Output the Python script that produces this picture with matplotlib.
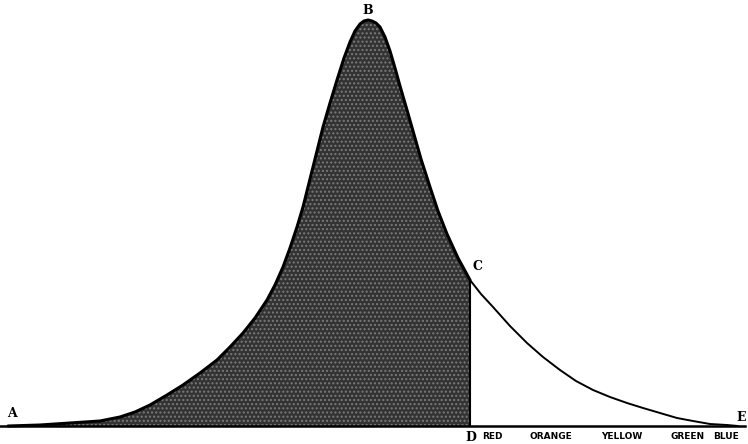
import matplotlib
matplotlib.use('agg')
import matplotlib.pyplot as plt
import numpy as np

# position along the spectrum and height of the curve
pos = [8, 40, 70, 100, 120, 135, 150, 167, 183, 200, 217, 230, 243, 255, 267,
       275, 283, 290, 297, 303, 307, 315, 323, 330, 337, 344, 350, 355, 360,
       364, 368, 372, 376, 380, 385, 390, 395, 400, 407, 413, 421, 430, 438,
       447, 458, 470, 481, 493, 510, 527, 543, 560, 576, 593, 610, 627, 643,
       660, 677, 693, 710, 727, 738]
height = [0, 1, 3, 5, 9, 14, 21, 31, 41, 53, 66, 79, 93, 108, 126,
          141, 159, 178, 199, 219, 235, 267, 299, 323, 346, 368, 384, 395, 402,
          405, 406, 405, 403, 399, 389, 375, 358, 340, 316, 295, 267, 239, 215,
          192, 168, 146, 132, 119, 100, 83, 69, 56, 45, 36, 29, 23, 18,
          13, 8, 5, 2, 1, 0]
d_pos = 470
colour_names = ['RED', 'ORANGE', 'YELLOW', 'GREEN', 'BLUE']
colour_pos = [492, 551, 622, 688, 726]

pos = np.array(pos)
height = np.array(height)

fig = plt.figure(figsize=(7.48, 4.44), dpi=100)
ax = fig.add_axes([0, 0, 1, 1])
ax.set_xlim(0, 748)
ax.set_ylim(-18, 426)
ax.axis('off')

# shaded part from A to D
dark = pos <= d_pos
ax.fill_between(pos[dark], 0, height[dark], facecolor='#333333',
                edgecolor='#7a7a7a', hatch='....', linewidth=0)
ax.plot(pos[dark], height[dark], color='black', lw=2.2, solid_capstyle='round')
ax.plot(pos[~dark | (pos == d_pos)], height[~dark | (pos == d_pos)],
        color='black', lw=1.4, solid_capstyle='round')
ax.plot([d_pos, d_pos], [0, height[pos == d_pos][0]], color='black', lw=1.5)
ax.plot([0, 745], [0, 0], color='black', lw=1.8)

letters = dict(family='DejaVu Serif', fontweight='bold', fontsize=9)
ax.text(12, 6, 'A', ha='center', va='bottom', **letters)
ax.text(368, 409, 'B', ha='center', va='bottom', **letters)
ax.text(478, 160, 'C', ha='center', va='center', **letters)
ax.text(471, -5, 'D', ha='center', va='top', **letters)
ax.text(741, 2, 'E', ha='center', va='bottom', **letters)

for name, x in zip(colour_names, colour_pos):
    ax.text(x, -6, name, ha='center', va='top', fontsize=6.5,
            fontweight='bold', family='DejaVu Sans')

try:
    plt.savefig('out.png', dpi=100)
except:
    print('Error: figure cannot be saved')
